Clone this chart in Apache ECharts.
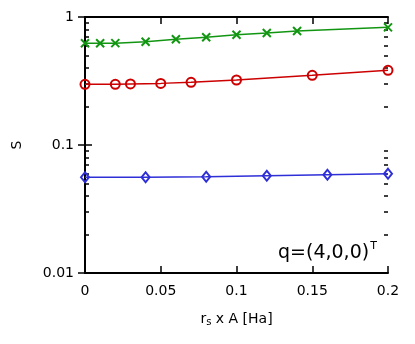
<!DOCTYPE html>
<html>
<head>
<meta charset="utf-8">
<script src="https://cdn.jsdelivr.net/npm/echarts@6/dist/echarts.min.js"></script>
<style>
  html, body { margin: 0; padding: 0; background: #fff; }
  #main { width: 415px; height: 344px; }
</style>
</head>
<body>
<div id="main"></div>
<script>
// data
var greenX = [0, 0.01, 0.02, 0.04, 0.06, 0.08, 0.1, 0.12, 0.14, 0.2];
var greenS = [0.623, 0.623, 0.625, 0.641, 0.67, 0.694, 0.727, 0.75, 0.778, 0.83];

var redX = [0, 0.02, 0.03, 0.05, 0.07, 0.1, 0.15, 0.2];
var redS = [0.298, 0.298, 0.3, 0.303, 0.309, 0.322, 0.35, 0.383];

var blueX = [0, 0.04, 0.08, 0.12, 0.16, 0.2];
var blueS = [0.056, 0.056, 0.0565, 0.0575, 0.0586, 0.0597];

var yMinorTicks = [0.02, 0.03, 0.04, 0.05, 0.06, 0.07, 0.08, 0.09,
                   0.2, 0.3, 0.4, 0.5, 0.6, 0.7, 0.8, 0.9];

function pairs(xs, ys) {
    return xs.map(function (x, i) { return [x, ys[i]]; });
}

var FONT = 'DejaVu Sans';
var crossPath = 'path://M0,0L10,10M10,0L0,10';

var myChart = echarts.init(document.getElementById('main'));

var frameLine = { show: true, lineStyle: { color: '#000', width: 2 } };

myChart.setOption({
    animation: false,
    backgroundColor: '#fff',
    textStyle: { fontFamily: FONT },
    title: {
        left: 273,
        top: 236,
        text: '{a|q=(4,0,0)}{sup|T}',
        textStyle: {
            rich: {
                a: { fontFamily: FONT, fontSize: 19, fontWeight: 'normal', color: '#000', lineHeight: 24 },
                sup: { fontFamily: FONT, fontSize: 11, fontWeight: 'normal', color: '#000', verticalAlign: 'top', lineHeight: 24, padding: [0, 0, 12, 1] }
            }
        }
    },
    grid: { left: 85, right: 27, top: 17, bottom: 71 },
    xAxis: [
        {
            type: 'value',
            position: 'bottom',
            min: 0, max: 0.2, interval: 0.05,
            name: '{n|r}{s|s}{n| x A [Ha]}',
            nameLocation: 'middle',
            nameGap: 38,
            nameTextStyle: {
                rich: {
                    n: { fontFamily: FONT, fontSize: 14, color: '#000' },
                    s: { fontFamily: FONT, fontSize: 10, color: '#000', verticalAlign: 'bottom', padding: [6, 0, 0, 0] }
                }
            },
            axisLine: frameLine,
            axisTick: { inside: true, length: 7, lineStyle: { color: '#000', width: 1.5 } },
            axisLabel: { margin: 11, fontFamily: FONT, fontSize: 14, color: '#000' },
            splitLine: { show: false }
        },
        {
            type: 'value',
            position: 'top',
            min: 0, max: 0.2, interval: 0.05,
            axisLine: frameLine,
            axisTick: { inside: true, length: 7, lineStyle: { color: '#000', width: 1.5 } },
            axisLabel: { show: false },
            splitLine: { show: false }
        }
    ],
    yAxis: [
        {
            type: 'log',
            logBase: 10,
            position: 'left',
            min: 0.01, max: 1,
            name: 'S',
            nameLocation: 'middle',
            nameGap: 61,
            nameRotate: 90,
            nameTextStyle: { fontFamily: FONT, fontSize: 14, color: '#000' },
            axisLine: frameLine,
            axisTick: { inside: true, length: 7, lineStyle: { color: '#000', width: 1.5 } },
            axisLabel: { margin: 11, fontFamily: FONT, fontSize: 14, color: '#000' },
            splitLine: { show: false }
        },
        {
            type: 'log',
            logBase: 10,
            position: 'right',
            min: 0.01, max: 1,
            axisLine: frameLine,
            axisTick: { inside: true, length: 7, lineStyle: { color: '#000', width: 1.5 } },
            axisLabel: { show: false },
            splitLine: { show: false }
        },
        // minor ticks, both sides
        {
            type: 'log',
            logBase: 10,
            position: 'left',
            min: 0.01, max: 1,
            axisLine: { show: false },
            axisTick: { inside: true, length: 4, customValues: yMinorTicks, lineStyle: { color: '#000', width: 1.5 } },
            axisLabel: { show: false },
            splitLine: { show: false }
        },
        {
            type: 'log',
            logBase: 10,
            position: 'right',
            min: 0.01, max: 1,
            axisLine: { show: false },
            axisTick: { inside: true, length: 4, customValues: yMinorTicks, lineStyle: { color: '#000', width: 1.5 } },
            axisLabel: { show: false },
            splitLine: { show: false }
        }
    ],
    series: [
        {
            type: 'line',
            data: pairs(greenX, greenS),
            symbol: crossPath,
            symbolSize: 8,
            showAllSymbol: true,
            lineStyle: { color: '#129612', width: 1.5 },
            itemStyle: { color: 'rgba(0,0,0,0)', borderColor: '#129612', borderWidth: 2 },
            clip: false
        },
        {
            type: 'line',
            data: pairs(redX, redS),
            symbol: 'circle',
            symbolSize: 9,
            showAllSymbol: true,
            lineStyle: { color: '#cc0000', width: 1.5 },
            itemStyle: { color: 'rgba(0,0,0,0)', borderColor: '#cc0000', borderWidth: 2 },
            clip: false
        },
        {
            type: 'line',
            data: pairs(blueX, blueS),
            symbol: 'diamond',
            symbolSize: [8, 10],
            showAllSymbol: true,
            lineStyle: { color: '#2f2fd8', width: 1.5 },
            itemStyle: { color: 'rgba(0,0,0,0)', borderColor: '#2f2fd8', borderWidth: 2 },
            clip: false
        }
    ]
});
</script>
</body>
</html>
